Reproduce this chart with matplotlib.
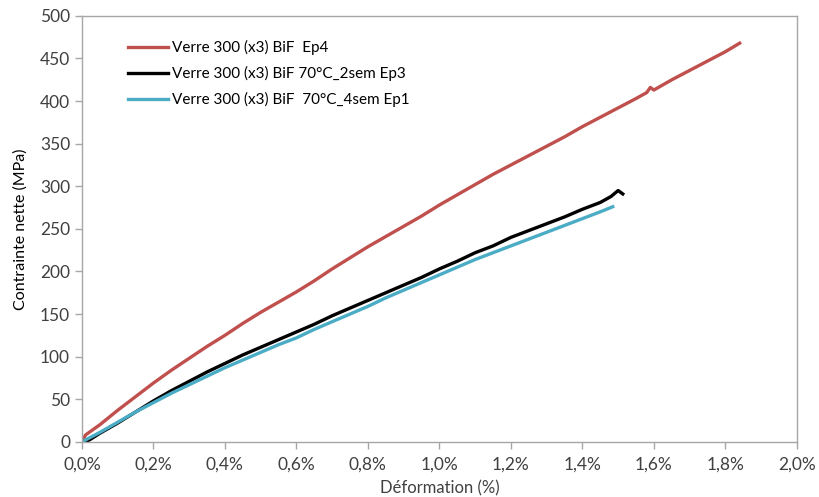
import matplotlib
matplotlib.use("Agg")
import numpy as np
import matplotlib.pyplot as plt
from matplotlib.ticker import FuncFormatter, MultipleLocator

plt.rcParams["font.family"] = ["Lato", "DejaVu Sans"]

# deformation (%) / contrainte (MPa)
x_ep4 = [0, 0.01, 0.05, 0.1, 0.15, 0.2, 0.25, 0.3, 0.35, 0.4, 0.45, 0.5, 0.55, 0.6,
         0.65, 0.7, 0.75, 0.8, 0.85, 0.9, 0.95, 1.0, 1.05, 1.1, 1.15, 1.2, 1.25, 1.3,
         1.35, 1.4, 1.45, 1.5, 1.55, 1.58, 1.59, 1.6, 1.65, 1.7, 1.75, 1.8, 1.84]
y_ep4 = [0, 8, 20, 37, 53, 69, 84, 98, 112, 125, 139, 152, 164, 176,
         189, 203, 216, 229, 241, 253, 265, 278, 290, 302, 314, 325, 336, 347,
         358, 370, 381, 392, 403, 410, 416, 413, 425, 436, 447, 458, 468]

x_ep3 = [0, 0.02, 0.05, 0.1, 0.15, 0.2, 0.25, 0.3, 0.35, 0.4, 0.45, 0.5, 0.55, 0.6,
         0.65, 0.7, 0.75, 0.8, 0.85, 0.9, 0.95, 1.0, 1.05, 1.1, 1.15, 1.2, 1.25, 1.3,
         1.35, 1.4, 1.45, 1.48, 1.5, 1.513]
y_ep3 = [0, 2, 10, 22, 35, 48, 60, 71, 82, 92, 102, 111, 120, 129,
         138, 148, 157, 166, 175, 184, 193, 203, 212, 222, 230, 240, 248, 256,
         264, 273, 281, 288, 295, 291]

x_ep1 = [0, 0.05, 0.1, 0.15, 0.2, 0.25, 0.3, 0.35, 0.4, 0.45, 0.5, 0.55, 0.6,
         0.65, 0.7, 0.75, 0.8, 0.85, 0.9, 0.95, 1.0, 1.05, 1.1, 1.15, 1.2, 1.25, 1.3,
         1.35, 1.4, 1.45, 1.485]
y_ep1 = [0, 11, 23, 35, 46, 57, 67, 77, 87, 96, 105, 114, 122,
         132, 141, 150, 159, 169, 178, 187, 196, 205, 214, 222, 230, 238, 246,
         254, 262, 270, 276]

labels = ["Verre 300 (x3) BiF  Ep4",
          "Verre 300 (x3) BiF 70°C_2sem Ep3",
          "Verre 300 (x3) BiF  70°C_4sem Ep1"]
colors = ["#C0504D", "#000000", "#4BACC6"]

fig = plt.figure(figsize=(8.19, 4.97), dpi=100)
ax = fig.add_axes([0.100, 0.111, 0.873, 0.857])

ax.plot(x_ep4, y_ep4, color=colors[0], lw=2.4, label=labels[0])
ax.plot(x_ep3, y_ep3, color=colors[1], lw=2.4, label=labels[1])
ax.plot(x_ep1, y_ep1, color=colors[2], lw=2.4, label=labels[2])

ax.set_xlim(0, 2.0)
ax.set_ylim(0, 500)
ax.xaxis.set_major_locator(MultipleLocator(0.2))
ax.yaxis.set_major_locator(MultipleLocator(50))
ax.xaxis.set_major_formatter(FuncFormatter(lambda v, p: f"{v:.1f}%".replace(".", ",")))

for s in ax.spines.values():
    s.set_color("#A6A6A6")
    s.set_linewidth(1)
ax.tick_params(colors="#A6A6A6", labelcolor="#404040", labelsize=12.5, length=5, width=1)
ax.tick_params(axis="x", pad=6)

ax.set_xlabel("Déformation (%)", fontsize=12, color="#404040", labelpad=5)
ax.set_ylabel("Contrainte nette (MPa)", fontsize=11.5, color="black", labelpad=9)

ax.legend(loc="upper left", bbox_to_anchor=(0.045, 0.975), frameon=False, fontsize=11,
          handlelength=2.6, handletextpad=0.3, labelspacing=0.72)

fig.savefig("out.png", dpi=100)
